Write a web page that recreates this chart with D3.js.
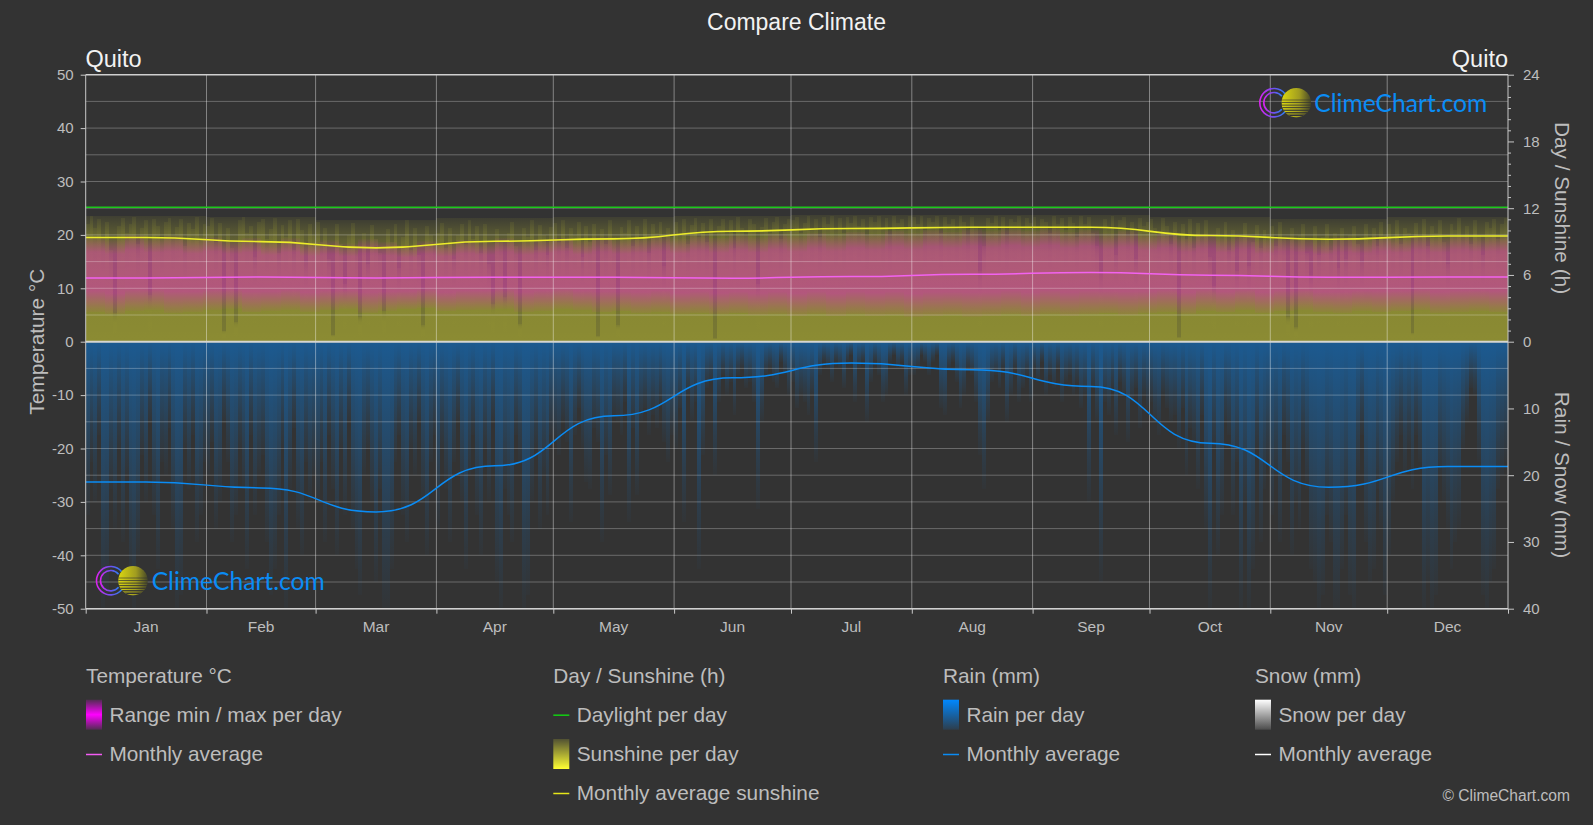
<!DOCTYPE html>
<html><head><meta charset="utf-8">
<script src="https://cdnjs.cloudflare.com/ajax/libs/d3/7.8.5/d3.min.js"></script>
<style>html,body{margin:0;padding:0;background:#333}svg{display:block}text{font-family:"Liberation Sans",Arial,sans-serif}</style>
</head><body><svg id="c" width="1593" height="825"></svg>
<script>
const months=["Jan","Feb","Mar","Apr","May","Jun","Jul","Aug","Sep","Oct","Nov","Dec"];
const monthDays=[31,28,31,30,31,30,31,31,30,31,30,31];
const tempAvg=[11.95,12.1,11.95,12.08,12.08,11.9,12.2,12.64,12.96,12.45,12.08,12.1];
const sunAvg=[9.36,9.0,8.43,9.03,9.24,9.93,10.17,10.29,10.29,9.54,9.21,9.5];
const sunPeak=[11.3,11.2,10.9,11.1,11.2,11.3,11.4,11.4,11.4,11.2,11.0,11.2];
const rainAvg=[21,21.9,25.5,18.6,11.1,5.4,3.2,4.2,6.7,15.2,21.8,18.7];
const daylight=[12.09,12.09,12.09,12.09,12.09,12.09,12.09,12.09,12.09,12.09,12.09,12.09];
const rainJan=[26,18,24,14,40,38,22,28,16,30,20,36,40,32,17,24,12,26,34,18,20,13,28,40,38,16,22,14,30,26,18];
const rainFeb=[20,15,28,24,12,18,30,26,16,22,34,14,26,20,17,30,38,34,26,16,40,22,13,28,32,18,24,20];
const rainMar=[24,18,30,14,22,32,16,26,12,28,34,38,20,16,24,36,22,40,40,34,18,14,26,30,16,20,12,24,32,18,14];
const rainApr=[28,16,22,30,18,12,24,34,20,14,26,32,16,24,12,36,40,22,26,30,14,18,40,38,24,16,28,20,26,14];
const rainMay=[15,17,12,15,27,14,10,16,21,22,13,15,30,17,23,11,12,14,9,27,13,23,12,10,14,11,13,9,15,18,14];
const rainJun=[16,10,27,8,12,9,34,17,7,6,20,9,5,8,6,11,5,4,7,6,9,25,12,5,4,6,7,3,5,8];
const rainJul=[6,10,8,9,11,8,18,5,3,4,6,3,4,7,3,2,9,4,3,12,6,3,5,9,8,3,2,4,3,8,5];
const rainAug=[5,4,2,3,5,3,2,10,11,4,3,6,10,8,4,5,9,17,22,12,6,5,7,4,12,8,4,9,7,5,9];
const rainSep=[4,6,3,8,5,7,4,9,6,5,8,6,10,8,24,7,12,36,9,11,7,14,6,8,15,9,7,13,8,10];
const rainOct=[9,12,14,8,10,12,11,16,10,20,13,15,22,11,28,40,16,32,26,12,14,26,18,40,24,40,34,16,30,22,18];
const rainNov=[26,20,30,14,18,32,24,28,16,22,34,36,40,38,26,30,40,40,34,26,38,40,20,14,30,36,34,22,28,38];
const rainDec=[32,24,18,14,20,16,22,14,18,40,36,40,38,20,24,28,34,30,28,16,12,7,8,18,38,40,36,34,22,20,18];
const sunJan=[10.6,11.3,10.2,11.0,9.4,10.8,8.2,2.6,10.4,11.1,9.8,10.6,11.2,8.8,10.2,10.9,4.2,11.0,10.4,9.2,10.8,11.1,9.6,10.3,11.0,8.6,10.7,10.1,11.2,9.5,10.6];
const sunFeb=[10.4,11.1,9.0,10.7,1.0,10.2,8.4,1.8,10.9,11.2,9.8,10.4,7.6,10.8,11.0,9.2,10.1,11.1,8.0,10.5,9.4,10.9,8.2,11.0,10.0,7.2,10.6,9.6];
const sunMar=[10.8,9.0,10.2,7.4,0.6,10.6,8.8,5.2,9.6,10.7,8.4,2.2,9.8,7.0,10.5,9.2,8.0,2.8,10.1,9.0,10.6,6.6,9.4,10.9,8.2,10.2,7.8,1.5,10.4,9.6,8.6];
const sunApr=[9.8,10.7,8.4,10.2,7.4,9.6,10.6,8.8,10.9,9.2,10.4,8.0,10.6,7.0,3.4,10.1,9.0,4.0,9.8,10.8,8.6,1.6,10.2,9.4,10.9,8.2,10.5,9.6,7.8,10.3];
const sunMay=[10.7,9.0,10.9,8.4,10.2,9.6,10.8,7.6,10.4,9.0,10.6,0.5,10.1,8.8,10.9,9.4,1.5,10.3,9.8,10.9,8.6,10.4,9.2,11.0,8.0,10.6,9.8,10.8,6.8,10.2,9.4];
const sunJun=[10.8,9.6,11.0,8.8,10.5,11.1,9.4,10.7,9.0,11.0,0.3,10.4,11.0,9.8,10.9,8.4,11.2,10.2,9.6,11.0,10.6,5.2,10.3,11.1,9.8,10.8,11.2,9.2,10.6,11.0];
const sunJul=[10.9,11.2,9.8,10.7,11.3,10.2,11.0,9.4,11.2,10.6,11.3,10.0,11.1,9.8,11.2,10.7,11.3,10.4,11.0,9.6,11.2,10.8,11.3,10.1,11.1,9.6,11.3,10.7,11.0,10.2,11.3];
const sunAug=[11.2,10.6,11.3,10.0,11.1,10.8,11.3,9.8,11.2,10.6,11.0,10.2,11.3,10.8,9.6,11.2,10.4,6.4,8.6,11.1,10.7,11.3,10.0,11.2,9.6,11.0,10.8,11.3,10.2,11.1,10.7];
const sunSep=[11.2,10.4,11.0,10.8,9.8,11.3,10.6,11.1,10.0,11.2,10.7,9.4,11.3,10.6,11.2,9.8,8.6,6.3,11.0,10.4,11.3,7.8,10.9,11.2,9.6,10.8,7.4,11.1,10.4,10.8];
const sunOct=[11.0,10.2,9.6,11.1,10.4,8.8,10.8,0.4,10.6,9.2,11.0,8.4,10.7,9.6,10.9,7.6,5.0,10.2,9.4,10.8,8.2,10.0,6.4,9.6,10.7,6.8,9.0,10.5,8.4,10.0,9.2];
const sunNov=[10.4,8.6,10.8,9.2,2.2,10.2,1.3,9.6,10.6,8.0,6.0,10.4,7.8,9.4,10.6,8.2,9.8,6.6,10.2,7.4,9.6,10.4,8.8,7.2,10.6,9.4,10.2,8.6,10.8,9.6];
const sunDec=[10.6,9.2,10.9,8.8,10.2,9.8,0.8,10.7,9.4,11.0,8.6,10.4,9.8,10.9,9.0,7.0,10.6,10.0,11.1,9.4,10.4,8.8,10.9,9.6,7.8,10.8,10.2,11.0,9.2,10.6,11.1];
const tempMin=[5.6,5.2,5.8,6.0,5.4,5.6,5.9,6.2,5.5,5.8,6.0,5.6,5.9,6.2,5.4,5.8,6.1,6.3,5.7,5.9,6.0,6.2,5.6,5.8,6.2,5.9,5.5,5.7,5.4,5.6,5.2,5.4,5.1,5.3,5.0,5.2,4.9,5.2,4.8,5.1,4.9,5.0,4.6,4.8,5.0,4.7,4.9,5.1,4.8,5.2,4.9,5.1,5.3,5.0,5.4,5.6,5.2,5.8,5.5,5.9,5.4,5.7,6.0,5.6,5.4,5.8,5.5,5.7,5.9,5.4,5.6,5.8,5.5];
const tempMax=[19.6,19.2,20.0,19.4,19.8,19.2,19.6,19.0,19.5,18.8,19.4,18.6,19.0,18.4,19.2,18.7,18.2,18.9,18.5,19.1,18.8,19.4,18.9,19.2,19.5,18.9,19.6,19.1,19.4,19.8,19.3,19.9,19.5,20.0,19.6,20.2,19.8,20.4,20.0,20.6,20.2,20.8,20.4,21.0,20.6,21.1,20.7,21.2,20.8,21.2,20.6,21.0,20.3,20.8,20.0,20.4,19.7,20.2,19.5,20.0,19.2,19.7,19.4,19.0,19.6,19.2,19.8,19.4,19.9,19.5,20.0,19.6,19.8];

const rainDaily=[rainJan,rainFeb,rainMar,rainApr,rainMay,rainJun,rainJul,rainAug,rainSep,rainOct,rainNov,rainDec].flat();
const sunDaily=[sunJan,sunFeb,sunMar,sunApr,sunMay,sunJun,sunJul,sunAug,sunSep,sunOct,sunNov,sunDec].flat();

const L=85.7,R=1508,T=74.7,B=608.7,Z=(T+B)/2;
const x=d3.scaleLinear().domain([0,365]).range([L,R]);
const yT=d3.scaleLinear().domain([-50,50]).range([B,T]);
const yS=d3.scaleLinear().domain([0,24]).range([Z,T]);
const yR=d3.scaleLinear().domain([0,40]).range([Z,B]);
const svg=d3.select("#c");
const starts=[0,...d3.cumsum(monthDays)];
const mids=monthDays.map((d,i)=>starts[i]+d/2);

const defs=svg.append("defs");
function grad(id,stops,x2=0,y2=1){
  const g=defs.append("linearGradient").attr("id",id).attr("x1",0).attr("y1",0).attr("x2",x2).attr("y2",y2);
  stops.forEach(s=>g.append("stop").attr("offset",s[0]).attr("stop-color",s[1]).attr("stop-opacity",s[2]));
}
grad("gRain",[[0,"#0088ff",.46],[.28,"#0088ff",.31],[.7,"#0088ff",.12],[1,"#0088ff",.02]]);
grad("gSun",[[0,"#ffff33",.05],[.15,"#ffff33",.12],[.35,"#ffff33",.15],[1,"#ffff33",.14]]);
grad("gBase",[[0,"#ffff33",.06],[.15,"#ffff33",.2],[.3,"#ffff33",.3],[1,"#ffff33",.34]]);
grad("gTemp",[[0,"#ff00ff",.02],[.2,"#ff00ff",.32],[.72,"#ff00ff",.36],[1,"#ff00ff",.03]]);
grad("lTemp",[[0,"#ff00ff",.15],[.5,"#ff00ff",1],[1,"#ff00ff",.15]]);
grad("lSun",[[0,"#ffff33",.15],[1,"#ffff33",1]]);
grad("lRain",[[0,"#0088ff",1],[1,"#0088ff",.12]]);
grad("lSnow",[[0,"#ffffff",1],[1,"#ffffff",.12]]);

const plot=svg.append("g");
function bars(data,fill,y0,y1){
  const w=365/data.length;
  plot.append("g").selectAll("rect").data(data).join("rect")
   .attr("x",(d,i)=>x(i*w)).attr("width",(d,i)=>x((i+1)*w)-x(i*w))
   .attr("y",(d,i)=>Math.min(y0(d,i),y1(d,i))).attr("height",(d,i)=>Math.abs(y1(d,i)-y0(d,i)))
   .attr("fill",fill).attr("shape-rendering","crispEdges");
}
plot.append("g").selectAll("rect").data(sunPeak).join("rect")
  .attr("x",(d,i)=>x(starts[i])).attr("width",(d,i)=>x(starts[i+1])-x(starts[i]))
  .attr("y",d=>yS(d)).attr("height",d=>yS(0)-yS(d)).attr("fill","url(#gBase)").attr("shape-rendering","crispEdges");
bars(sunDaily,"url(#gSun)",d=>yS(d),d=>yS(0));
bars(tempMax,"url(#gTemp)",d=>yT(d),(d,i)=>yT(tempMin[i]));
bars(rainDaily,"url(#gRain)",d=>yR(0),d=>yR(d));

// grid
const grid=svg.append("g");
grid.selectAll("line.h").data(d3.range(-45,50,5).filter(d=>d!==0)).join("line")
 .attr("x1",L).attr("x2",R).attr("y1",d=>yT(d)).attr("y2",d=>yT(d)).attr("stroke","#fff").attr("stroke-opacity",.27);
grid.selectAll("line.v").data(starts.slice(1,-1)).join("line")
 .attr("x1",d=>x(d)).attr("x2",d=>x(d)).attr("y1",T).attr("y2",B).attr("stroke","#fff").attr("stroke-opacity",.4);

// monthly lines
function mline(vals,y,color,w){
  const pts=[[0,vals[0]],...vals.map((v,i)=>[mids[i],v]),[365,vals[11]]];
  svg.append("path").attr("d",d3.line().x(d=>x(d[0])).y(d=>y(d[1])).curve(d3.curveBumpX)(pts))
   .attr("fill","none").attr("stroke",color).attr("stroke-width",w);
}
mline(daylight,yS,"#1cc81c",1.6);
mline(sunAvg,yS,"#eded2a",1.6);
mline(tempAvg,yT,"#f262f0",1.5);
mline(rainAvg,yR,"#0a8cf5",1.5);

// axes
const ac="#c8c8c8",tc="#bdbdbd";
function style(g){g.selectAll("text").attr("fill",tc).attr("font-size",15);g.selectAll("line,path").attr("stroke",ac);}
svg.append("g").attr("transform",`translate(${L},0)`).call(d3.axisLeft(yT).tickValues(d3.range(-50,51,10)).tickSize(5).tickPadding(7).tickFormat(d=>String(d))).call(style)
  .call(g=>g.select(".domain").attr("d",`M0,${T}V${B}`));
const ra=svg.append("g").attr("transform",`translate(${R},0)`);
ra.append("g").call(d3.axisRight(yS).tickValues(d3.range(0,25,6)).tickSize(6).tickPadding(9)).call(style).call(g=>g.select(".domain").attr("d",`M0,${T}V${Z}`));
ra.append("g").call(d3.axisRight(yS).tickValues(d3.range(0,25).filter(d=>d%6)).tickSize(3).tickFormat("")).call(style).call(g=>g.select(".domain").remove());
ra.append("g").call(d3.axisRight(yR).tickValues(d3.range(10,41,10)).tickSize(6).tickPadding(9)).call(style).call(g=>g.select(".domain").attr("d",`M0,${Z}V${B}`));
const xa=d3.axisBottom(x).tickValues(starts).tickSize(5).tickFormat("");
svg.append("g").attr("transform",`translate(0,${B})`).call(xa).call(style).call(g=>g.select(".domain").attr("d",`M${L},0H${R}`));
svg.append("g").selectAll("text").data(months).join("text").attr("x",(d,i)=>x(mids[i])).attr("y",632).attr("text-anchor","middle").attr("fill",tc).attr("font-size",15.5).text(d=>d);
// zero and frame lines
[[T,1.5,"#d0d0d0"],[Z,2,"#d6d6d0"],[B,1.5,"#d0d0d0"]].forEach(s=>svg.append("line").attr("x1",L).attr("x2",R).attr("y1",s[0]).attr("y2",s[0]).attr("stroke",s[2]).attr("stroke-width",s[1]));

// titles
function txt(x0,y0,t,size,fill,anchor,rot){
  const e=svg.append("text").attr("x",x0).attr("y",y0).attr("font-size",size).attr("fill",fill).attr("text-anchor",anchor||"start").text(t);
  if(rot) e.attr("transform",`rotate(${rot} ${x0} ${y0})`);
  return e;
}
const fs=20.8;
txt(796.5,30,"Compare Climate",23,"#f2f2f2","middle");
txt(85.5,67,"Quito",23.5,"#f2f2f2");
txt(1508,67,"Quito",23.5,"#f2f2f2","end");
txt(44,Z,"Temperature °C",fs,tc,"middle",-90);
txt(1555,208,"Day / Sunshine (h)",fs,tc,"middle",90);
txt(1555,475,"Rain / Snow (mm)",fs,tc,"middle",90);

// legend
const legendHeads=[[86,"Temperature °C"],[553.3,"Day / Sunshine (h)"],[943,"Rain (mm)"],[1255,"Snow (mm)"]];
legendHeads.forEach(d=>txt(d[0],682.7,d[1],fs,tc));
const rowY=[721.7,761,800];
const legendRows=[
 [86,0,"Range min / max per day","url(#lTemp)"],[86,1,"Monthly average","#f35cf3",1],
 [553.3,0,"Daylight per day","#12d012",1],[553.3,1,"Sunshine per day","url(#lSun)"],[553.3,2,"Monthly average sunshine","#e6e619",1],
 [943,0,"Rain per day","url(#lRain)"],[943,1,"Monthly average","#0a8cf5",1],
 [1255,0,"Snow per day","url(#lSnow)"],[1255,1,"Monthly average","#ffffff",1]];
legendRows.forEach(r=>{
  const by=rowY[r[1]];
  txt(r[0]+23.4,by,r[2],fs,tc);
  if(r[4]) svg.append("line").attr("x1",r[0]).attr("x2",r[0]+16).attr("y1",by-6.5).attr("y2",by-6.5).attr("stroke",r[3]).attr("stroke-width",1.5);
  else svg.append("rect").attr("x",r[0]).attr("y",by-22).attr("width",16).attr("height",30).attr("fill",r[3]);
});
txt(1570,801,"© ClimeChart.com",15.6,tc,"end");

// logos
grad("ringG",[[0,"#e020f0",1],[.55,"#7050f0",1],[1,"#2a80f0",1]],1,0);
grad("sunG",[[0,"#dcd810",1],[.6,"#a09c20",1],[1,"#444428",1]],1,0);
function logo(cx,cy,tx,ty,idn){
  const g=svg.append("g");
  [14.2,10.2].forEach(r=>g.append("path").attr("transform",`translate(${cx},${cy})`)
    .attr("d",d3.arc().innerRadius(r-.8).outerRadius(r+.8).startAngle(Math.PI*.72).endAngle(Math.PI*2.28)())
    .attr("fill","url(#ringG)"));
  const sx=cx+22.3;
  defs.append("clipPath").attr("id","sc"+idn).append("circle").attr("cx",sx).attr("cy",cy).attr("r",14.7);
  const s=g.append("g").attr("clip-path",`url(#sc${idn})`);
  s.append("rect").attr("x",sx-15).attr("y",cy-15).attr("width",30).attr("height",30).attr("fill","url(#sunG)");
  [[-3,.6],[-.5,.7],[2,.8],[4.5,.9],[7,1.1],[9.4,1.3],[11.8,1.5]].forEach(q=>s.append("rect").attr("x",sx-15).attr("y",cy+q[0]).attr("width",30).attr("height",q[1]).attr("fill","#333"));
  g.append("text").attr("x",tx).attr("y",ty).attr("font-size",25).attr("fill","#0a8cf5").attr("textLength",173).attr("lengthAdjust","spacingAndGlyphs").style("font-family","Lato,sans-serif").style("font-weight",400).text("ClimeChart.com");
}
logo(1274,102.7,1314.3,112,1);
logo(110.7,580.7,151.7,590,2);
</script></body></html>
